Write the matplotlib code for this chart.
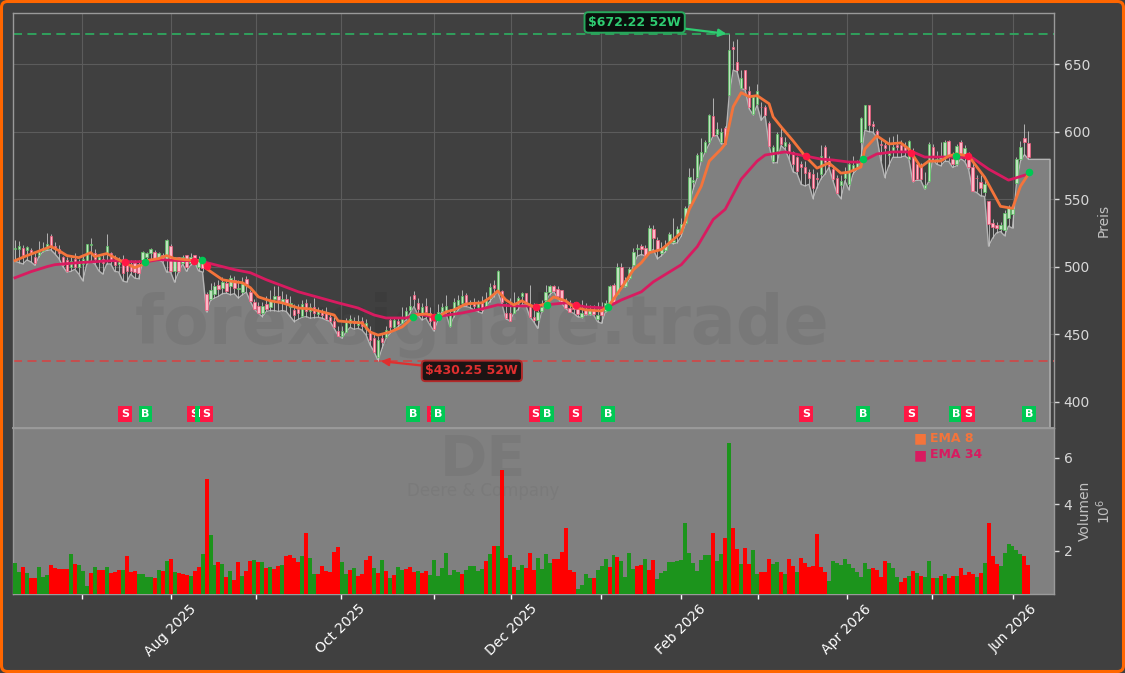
#!/usr/bin/python3

import numpy as np
import matplotlib
matplotlib.use('Agg')
import matplotlib.pyplot as plt
from matplotlib.patches import FancyBboxPatch
from matplotlib.transforms import IdentityTransform

#################################################
# PRICE DATA (one row = 10 sessions)
#################################################
opens = [
    513,513,514,512.5,512.5,507,508.5,511.5,513,522.6,
    515,513,507,505,500,506,500,502,504,516,
    510,504,506,510,510,504,502,506,504,502,
    503,502,505,507.5,510,511,506,509,506,515,
    497,507,503,509,503,509,500,506,480,476,
    480,486.5,484,488,486,490,483.5,481.5,490.5,481,
    473.5,471,466,472,470,476,478,474,476,470,
    468,468.5,463.5,473,467,470,465,467,465.5,463,
    460,452.5,449,451.9,458,460,457,460,454,452,
    447,433,447,448,460.5,455,459.5,458,463,468,
    478.7,473,464,470.5,466,460,461,467,466.7,456,
    464,471.7,473,479,472,474,470,473,470.5,476.7,
    486.6,481.6,482,465.5,465.5,466,471.7,478,480.4,471.7,
    463,460.5,467,475.4,481.6,485.4,483.6,483,474,469.2,
    473,469,463,468,465,468,461,470,467,470,
    486.6,480,499.8,485.4,491.6,501.5,513,515,514,511.5,
    527.6,520,510,512,517.7,518,523.9,526.4,532.6,546.2,
    563,566.1,578.5,585.2,592.2,611.5,598.4,592.2,602.6,627,
    662.9,651.8,632,645.6,630,613.3,620.7,618.5,618.3,606.3,
    578.5,586,595.9,589.7,590.9,584.7,581,576,573.5,570,
    568.5,566,569,588.4,579.7,572.3,566,560.3,565.6,561,
    572,574,592.1,602,619.4,605.8,600.3,591,590,583,
    586,590,590,589,580,585.9,576,574.7,558,563.6,
    589,578,580,582,593.4,579.7,576,592,582,583.4,
    573.5,566,563,555.4,548.7,532,531,528,527.5,536,
    538.7,562,579.7,595,591.6,
]
closes = [
    514,515.5,509,514.5,510,503,511,514,517,515,
    513,510,501,497,504,500,503,506,516.5,516.5,
    506,507,503,515,504,501,506,495,497,497,
    496,495,511,510,513,506.5,510,505,520,497,
    507,497,507,500,507,504,505,499,468,483,
    486,483.5,489,482,491.5,484,484.5,487.5,487.5,474.5,
    468.5,465.5,470.5,469,475,478,475,476,472,473,
    464.5,465.5,472.5,467,470,466,468,464,461,460,
    455,449,452,459,461,458,460,456,458,446,
    437,446,444,453,455.5,460.5,457.5,461,467.5,471,
    475.7,469,470,466.7,460,454,466.7,470,470.5,464.3,
    473.7,475.4,478,471.7,474,471,473,468,475.4,484.6,
    484,496.5,474,461.8,460,472,476.7,480.4,473,463,
    460.5,466.7,470,481.6,486,482,478,474,469.7,466.7,
    469,465,466,465,468,465,464,464,473,486,
    474.2,500,486.6,490.4,498,510.7,513.5,513,507.8,528.9,
    521.4,512.7,514,515,524,520,527.6,531.3,543.8,566.1,
    564,582.7,585.2,592.2,612,597.1,602.1,599.6,590.9,660.5,
    661.5,645.6,640,631.9,618,625.7,629.9,618,612.5,589.7,
    588.5,598.4,590.9,592.7,584.7,576,571,573.6,569.3,566,
    558.6,565,582,577.2,574.7,564.8,554.9,563.6,569.3,576,
    575,577,610.2,619.4,605,604,597,590,588,586,
    589,589,586,586,593,563.6,564.8,564.8,560.3,590.9,
    581,580,582,592,581.7,576,589.6,582,588,573.5,
    556,565.5,558,561,531.3,529.5,529,530.5,540,543.7,
    542.4,580,589,592,581,
]
highs = [
    520,519,516,515,514,510,519,518,525,524,
    518,516,508,507,507,510,506,509,516.5,521,
    513,509,510,524,510.5,509,507,509,505,505,
    505,505,511.5,511,514,512,510.5,510,520.5,517,
    507,507,508.5,509,510,509,508,507,481,488,
    489,490,492,491,494,493,490,492,493,483,
    476,474,474,478,483,486,486,482,480,478,
    472,472,475,476,473,477,470,469,470,466,
    463,456,456,462,464,463,464,463,461,456,
    450,449,451,456,462,463,462,470,470,478,
    482,477,473,477,470,462,472,473,479,469,
    477,479,483,480.4,475.4,476.7,475.4,478,481.6,487.8,
    490.3,497.8,483,473,476.7,481.6,478,481.6,480.4,486.6,
    473,471.7,475.4,486.6,486.6,486.6,485.4,483,476.7,475.4,
    474.2,471.7,475.4,473,471.7,471.7,474.2,474.2,475,486.5,
    488,503,503,492,500,514,517,517,516,531,
    531,522,518,520,526,536,530,536,545,573,
    573,584,595,594,613,625,607,603,604,672.22,
    667,669,646,646,634,627,635,622,620,608,
    590,600,603,596,592,586,582,578,578,572,
    572,570,590,590,582,575,568,568,574,578,
    582,579,610.5,619.5,619.5,608,602,595,594,596,
    597,598,594,592,594,588,578,577,570,592,
    591,586,592,594,594,585,591,594,590,585,
    577,568,568,564,549,535,533,533,542,546,
    544,581,593,605.5,600.8,
]
lows = [
    504,503,502,505,503.5,501,507.5,511,512,512.5,
    509.5,506,500,496,496.5,498,494.5,489.5,502,504,
    502,497,494.5,502,502,496.5,496,489.5,488.5,494.5,
    491.5,491,503.5,504.5,505,505,505,503.5,496,496,
    488.5,496,502,496.5,501,503.5,497,496,466.5,475,
    476.7,478,480,480.4,479.2,480,476.7,479.2,481,474.2,
    468.5,465.5,463,466.8,467.5,467.5,466.8,467.5,466.8,463,
    459.3,461,462.5,463,461.8,462.3,462.5,461.8,460.5,459.3,
    454.3,449,446.9,451.9,455,453.6,454.3,453,449.4,442,
    437,430.25,439.5,446.9,450.6,453,455.6,458,460.5,465.5,
    470.5,464.3,460.5,461.8,456.8,452.3,460.5,466.7,465.5,455.6,
    463,468,470.5,470.5,469.7,468,466.7,465.5,470.5,474.2,
    477.9,481.6,473,461.5,459.8,465.5,468,471.7,471.7,463,
    459.3,454.3,466.7,474.2,479.2,481.6,476.7,473,469,466.7,
    465.5,463,462.3,464.3,464.3,464.3,459.3,458,466.7,470,
    474,480,485,485,491,501.5,507.8,509,507.8,511,
    512.7,505.8,508,511,517.7,517,517.7,522.7,531.3,546.2,
    557.4,566,578.5,585,590.9,597,597,591,590.9,627,
    645.6,644.3,632,631,617,612.5,619.5,608.3,612,589.7,
    576.8,577,589.7,587,579.7,570.3,569,561,559.8,561,
    550.4,558.6,565,568.5,573.5,563.6,554.4,550.4,563.6,556.9,
    568.5,572,580,601,600,599.6,596,578.5,566,574.7,
    581,581,581,582,580,563,564,564,557.5,563,
    580,575.9,574.7,578,578,573.5,574.7,580,578,572,
    556,555,552.5,552,515.2,521,525,526,522.9,530,
    528.5,562,578,583,579.5,
]

# traded shares in millions
volumes = [
    1.47,1.11,1.32,1.04,.84,.84,1.29,.89,.97,1.40,
    1.28,1.22,1.22,1.22,1.87,1.44,1.40,1.14,.49,1.04,
    1.29,1.18,1.18,1.29,1.04,1.08,1.18,1.18,1.78,1.08,
    1.14,1.01,1.01,.89,.89,.84,1.18,1.14,1.57,1.65,
    1.10,1.05,1.01,.97,.92,1.14,1.31,1.87,5.10,2.69,
    1.40,1.52,1.44,.88,1.14,.75,1.52,.92,1.14,1.57,
    1.61,1.52,1.52,1.27,1.31,1.22,1.35,1.40,1.78,1.83,
    1.70,1.52,1.78,2.77,1.70,1.01,1.01,1.35,1.14,1.10,
    1.96,2.17,1.52,1.01,1.18,1.27,.92,1.01,1.61,1.78,
    1.27,1.05,1.61,1.14,.84,.97,1.31,1.18,1.22,1.31,
    1.10,1.14,1.05,1.14,.97,1.61,.92,1.27,1.91,.97,
    1.18,1.10,1.01,1.18,1.35,1.35,1.14,1.22,1.57,1.87,
    2.21,2.21,5.48,1.70,1.83,1.31,1.18,1.40,1.27,1.91,
    1.18,1.70,1.22,1.87,1.48,1.65,1.65,1.96,2.99,1.18,
    1.10,.36,.54,1.01,.84,.84,1.18,1.35,1.65,1.31,
    1.83,1.74,1.57,.88,1.91,1.22,1.35,1.40,1.65,1.18,
    1.61,.79,1.05,1.14,1.52,1.52,1.57,1.61,3.20,1.91,
    1.48,1.14,1.61,1.83,1.83,2.77,1.57,1.87,2.56,6.64,
    2.99,2.08,1.44,2.13,1.44,2.04,1.01,1.10,1.10,1.65,
    1.44,1.52,1.10,1.01,1.65,1.35,1.10,1.70,1.50,1.30,
    1.35,2.75,1.30,1.10,.70,1.55,1.50,1.40,1.65,1.45,
    1.25,1.08,.90,1.47,1.22,1.25,1.18,.90,1.55,1.47,
    1.25,.90,.67,.82,.92,1.12,1.04,.92,.88,1.55,
    .84,.84,.92,1.01,.84,.92,.92,1.25,.97,1.08,
    1.01,.88,1.04,1.47,3.19,1.78,1.44,1.35,1.90,2.29,
    2.22,2.04,1.87,1.78,1.40,
]
volume_side = (
    "ggrgrrgggr" "rrrrgrgggr" "grrgrrrgrr" "rggggrgrgr" "grrrgrrgrg"
    "grgrgrrgrr" "grgrgrrgrr" "rrgrggrrrr" "rrggrgrrrr" "grgrgrggrr"
    "rgrrgggggg" "ggrgggggrg" "rgrrgrggrr" "rggggrrrrr" "rggggrgggr"
    "grgggg" "rrgr" "rggggggggg" "gggggrggrg" "rrgrrggrrr"
    "ggrgrrgrrr" "rrrrgggggg" "gggggrrrrg" "ggrrgrgrgg" "rgrgrrgrrr"
    "rgrgrrrggg" "gggrr"
)

#################################################
# MOVING AVERAGES (session, value)
#################################################
ema8_bars = [0,3,5,9,11,13,16,19,20,23,26,30,32,33,36,38,40,45,47,48,52,55,57,59,61,64,67,71,74,77,
    80,81,84,87,89,91,94,97,99,100,103,106,108,110,113,117,119,121,123,125,127,130,133,135,138,140,143,147,149,152,
    155,157,159,162,165,167,169,172,174,177,178,180,182,184,186,189,190,192,195,198,201,204,207,209,212,213,216,219,222,224,
    227,229,232,234,236,239,243,247,250,252,254]
ema8_vals = [504.5,508.2,510.4,514.9,511.9,508.2,506.7,510.4,507.5,509.7,505.2,499.3,501.5,504.5,506,508.2,506,504.5,504.5,498.5,490.3,488.8,488.1,484.4,477.6,474.7,473.2,469.4,468.7,466.5,
    464.2,459.8,459,458.3,451.6,449.3,451.6,455.3,460.5,464.2,465,462.7,466.5,468,472.4,473.2,476.9,482.1,475.4,471.7,474.7,470.2,472.4,477.6,474.7,470.2,468,467.2,471.7,484.4,
    497.8,503,510.4,512.7,520.1,525.3,542.5,559.6,578.2,587.2,590.9,618.5,628.9,625.9,626.7,620.7,611,603.6,593.2,582,573,576.8,569.3,570,573.8,587.2,596.9,590.9,591.7,587.2,
    573.8,578.2,578.2,582,583.5,582,566.3,544.7,543.2,559.6,568.6]

ema34_bars = [0,4,8,10,16,20,25,28,33,36,41,47,48,55,59,63,71,81,86,90,93,98,101,105,112,117,121,125,130,133,
    138,143,148,152,157,160,167,171,175,178,182,186,188,193,198,202,205,209,212,216,220,225,228,232,236,240,244,249,254]
ema34_vals = [491.8,496.3,500,501.5,503,503.7,504.5,503.7,503.7,505.2,504.5,504.5,503,497.8,495.5,490.3,481.4,473.2,469.4,464.2,462,462,465,462.7,465.7,468.7,471.7,470.9,470.9,471.7,
    473.2,470.2,469.4,475.4,481.4,488.8,501.5,514.9,535,542.5,564.8,578.2,582.7,585,582,579.7,579,577.5,577.5,583.5,585,585,581.2,581.2,581.2,580.5,572.3,564.1,568.6]

#################################################
# SIGNALS AND LEVELS
#################################################
signal_bars = [27.6,32.7,44.9,46.9,48.0,99.8,104.9,106.0,130.5,133.3,140.5,148.6,198.2,212.5,224.6,235.8,238.8,254.1]
signal_type = ["S","B","S","B","S","B","S","B","S","B","S","B","S","B","S","B","S","B"]
signal_vals = [503.5,503.4,504.2,505,500.7,463,463,463,470,471.7,471.7,470.4,581.7,579.7,584.2,581.7,581.7,569.8]

week52_high = 672.22
week52_low = 430.25
high_bar = 179
low_bar = 91

tick_bars = [16.7,39,60.3,81.6,105.1,124.4,146.8,167,186.3,208.5,229.9,250.2]
tick_labels = ["","Aug 2025","","Oct 2025","","Dec 2025","","Feb 2026","","Apr 2026","","Jun 2026"]
price_ticks = [400,450,500,550,600,650]
volume_ticks = [2,4,6]

#################################################
# STYLE
#################################################
BG = '#404040'
AREA = '#808080'
ORANGE = '#f4743b'
CRIMSON = '#d81b60'
SELL = '#ff1744'
BUY = '#00c853'
LIGHT = '#d8d8d8'
W, H = 1125, 673

bars = np.arange(len(closes))
price_min, price_max = 380.5, 687.9


def px_x(x):
    return x/W


def px_y(y):
    return 1 - y/H


fig = plt.figure(figsize=(W/100, H/100), dpi=100, facecolor=BG)
ax_p = fig.add_axes([px_x(13), px_y(428), (1054 - 13)/W, (428 - 13)/H], facecolor=BG)
ax_v = fig.add_axes([px_x(13), px_y(594), (1054 - 13)/W, (594 - 428)/H], facecolor=AREA, sharex=ax_p)

#################################################
# PRICE PANEL
#################################################
ax_p.set_xlim(-0.5, 260.4)
ax_p.set_ylim(price_min, price_max)
ax_p.grid(True, color='#5c5c5c', lw=0.8, zorder=0)
ax_p.set_axisbelow(True)

# grey area under the session lows, held flat past the last session
area_x = np.r_[-0.5, bars, 259.4]
area_y = np.r_[lows[0], lows, lows[-1]]
ax_p.fill_between(area_x, area_y, price_min, color=AREA, lw=0, zorder=1)
ax_p.plot(np.r_[area_x, 259.4], np.r_[area_y, price_min], color='#b4b4b4', lw=1.0, zorder=1.2)

# 52 week levels
ax_p.axhline(week52_high, color='#2fa85f', ls=(0, (5, 3)), lw=1.3, zorder=1.5)
ax_p.axhline(week52_low, color='#cc4a4a', ls=(0, (5, 3)), lw=1.3, zorder=1.5)

# watermark
ax_p.text(px_x(482), px_y(325), 'forexsignale.trade', transform=fig.transFigure, ha='center', va='center',
          fontsize=48, fontweight='bold', color='#000000', alpha=0.055, zorder=1.4)

# candles
up = np.array(closes) >= np.array(opens)
body_low = np.minimum(opens, closes)
body_high = np.maximum(opens, closes)
ax_p.vlines(bars, lows, highs, color='#c4c4c4', lw=0.6, zorder=2)
ax_p.bar(bars[up], (body_high - body_low)[up], bottom=body_low[up], width=0.6,
         facecolor='#bfe3bf', edgecolor='#58c060', lw=0.5, zorder=3)
ax_p.bar(bars[~up], (body_high - body_low)[~up], bottom=body_low[~up], width=0.6,
         facecolor='#ffb8c8', edgecolor='#f0587a', lw=0.5, zorder=3)

# moving averages
ax_p.plot(ema34_bars, ema34_vals, color=CRIMSON, lw=2, zorder=4, solid_joinstyle='round')
ax_p.plot(ema8_bars, ema8_vals, color=ORANGE, lw=2, zorder=4.1, solid_joinstyle='round')

# signal dots on the averages and the badges along the panel bottom
badge_y = 390.9
for bar, kind, val in zip(signal_bars, signal_type, signal_vals):
    col = BUY if kind == 'B' else SELL
    ax_p.scatter([bar], [val], s=30, color=col, lw=0, zorder=5)
    ax_p.text(bar, badge_y, kind, color='white', fontsize=8, fontweight='bold', ha='center', va='center',
              bbox=dict(boxstyle='square,pad=0.25', facecolor=col, edgecolor='none'), zorder=6)

# 52 week labels
ax_p.annotate('$672.22 52W'.replace('$', r'\$'), xy=(high_bar, week52_high), xytext=(155.3, 680.9),
              ha='center', va='center', color='#2ecc71', fontsize=9, fontweight='bold', zorder=7,
              bbox=dict(boxstyle='round,pad=0.3', facecolor='#0a0f0c', edgecolor='#27a85c', lw=1.4),
              arrowprops=dict(arrowstyle='-|>', color='#2ecc71', lw=1.6, shrinkA=0, shrinkB=2, mutation_scale=11))
ax_p.annotate('$430.25 52W'.replace('$', r'\$'), xy=(low_bar, week52_low), xytext=(114.5, 422.8),
              ha='center', va='center', color='#e02f2f', fontsize=9, fontweight='bold', zorder=7,
              bbox=dict(boxstyle='round,pad=0.3', facecolor='#1c1414', edgecolor='#b02a2a', lw=1.4),
              arrowprops=dict(arrowstyle='-|>', color='#e02f2f', lw=1.6, shrinkA=0, shrinkB=2, mutation_scale=11))

ax_p.set_yticks(price_ticks)
ax_p.yaxis.tick_right()
ax_p.tick_params(axis='y', colors=LIGHT, labelsize=10, length=3.5, width=1)
ax_p.tick_params(axis='x', length=0, labelbottom=False)
ax_p.set_xticks(tick_bars)
ax_p.set_ylabel('Preis', color='#c0c0c0', fontsize=10)
ax_p.yaxis.set_label_position('right')
ax_p.yaxis.set_label_coords(1.041, 0.5)

#################################################
# VOLUME PANEL
#################################################
vol_colors = ['#ff0000' if c == 'r' else '#1c941c' for c in volume_side]
ax_v.bar(bars, volumes, width=1.0, color=vol_colors, lw=0, zorder=3)
ax_v.set_ylim(0.15, 7.29)
ax_v.set_yticks(volume_ticks)
ax_v.yaxis.tick_right()
ax_v.tick_params(axis='y', colors=LIGHT, labelsize=10, length=3.5, width=1)
ax_v.set_ylabel('Volumen\n$10^{6}$', color='#c0c0c0', fontsize=10, linespacing=1.2)
ax_v.yaxis.set_label_position('right')
ax_v.yaxis.set_label_coords(1.0225, 0.5)

ax_v.set_xticks(tick_bars)
ax_v.set_xticklabels(tick_labels, rotation=45, ha='center', fontsize=10, color=LIGHT)
ax_v.tick_params(axis='x', colors='white', length=3.5, width=1, pad=2)

ax_v.text(px_x(483), px_y(462), 'DE', transform=fig.transFigure, ha='center', va='center',
          fontsize=41, fontweight='bold', color='black', alpha=0.05, zorder=1)
ax_v.text(px_x(483), px_y(491), 'Deere & Company', transform=fig.transFigure, ha='center', va='center',
          fontsize=12, color='black', alpha=0.04, zorder=1)

# legend squares and names
for y, col, name in [(438, ORANGE, 'EMA 8'), (455, CRIMSON, 'EMA 34')]:
    fig.text(px_x(914), px_y(y), '\u25a0', color=col, fontsize=10, ha='left', va='center')
    fig.text(px_x(930), px_y(y), name, color=col, fontsize=9, fontweight='bold', ha='left', va='center')

for ax in (ax_p, ax_v):
    for side in ax.spines:
        ax.spines[side].set_color('#9a9a9a')
        ax.spines[side].set_linewidth(1.0)
ax_p.spines['bottom'].set_linewidth(1.4)

# orange outer frame
fig.add_artist(FancyBboxPatch((1.5, 1.5), W - 3, H - 3, boxstyle='round,pad=0,rounding_size=6',
                              facecolor='none', edgecolor='#ff6600', lw=2.2, transform=IdentityTransform()))

fig.savefig('out.png', dpi=100, facecolor=BG)
